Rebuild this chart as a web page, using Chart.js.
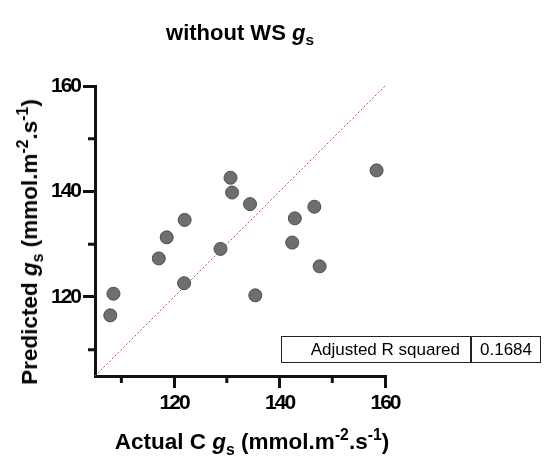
<!DOCTYPE html>
<html>
<head>
<meta charset="utf-8">
<script src="https://cdn.jsdelivr.net/npm/chart.js@4/dist/chart.umd.min.js"></script>
<style>
  html, body { margin: 0; padding: 0; background: #fff; }
  #wrap { position: relative; width: 544px; height: 464px; font-family: "Liberation Sans", Arial, sans-serif; color: #000; }
  #chart { position: absolute; left: 0; top: 0; }
  .lbl { position: absolute; font-weight: bold; white-space: nowrap; transform: translate(-50%, -50%); }
  .lbl i { font-style: italic; }
  .sub { font-size: 0.7em; position: relative; top: 0.35em; }
  .sup { font-size: 0.7em; position: relative; top: -0.55em; }
  #yTitle { transform: translate(-50%, -50%) rotate(-90deg); }
  #stats { position: absolute; left: 281px; top: 336px; width: 258px; height: 25px; border: 1.5px solid #222; display: flex; font-size: 17px; }
  #stats div { line-height: 25px; }
  #stats .name { width: 190px; text-align: right; padding-right: 10px; box-sizing: border-box; border-right: 2px solid #222; }
  #stats .val { flex: 1; text-align: center; }
</style>
</head>
<body>
<div id="wrap">
  <canvas id="chart" width="544" height="464"></canvas>
  <div class="lbl" id="title" style="left:240px; top:33px; font-size:22px;">without WS <i>g</i><span class="sub">s</span></div>
  <div class="lbl" id="xTitle" style="left:252px; top:442px; font-size:22.5px;">Actual C <i>g</i><span class="sub">s</span> (mmol.m<span class="sup">-2</span>.s<span class="sup">-1</span>)</div>
  <div class="lbl" id="yTitle" style="left:30px; top:242px; font-size:22.5px;">Predicted <i>g</i><span class="sub">s</span> (mmol.m<span class="sup">-2</span>.s<span class="sup">-1</span>)</div>
  <div id="stats"><div class="name">Adjusted R squared</div><div class="val">0.1684</div></div>
</div>
<script>
// values
const actualGs = [107.9, 108.5, 117.1, 118.6, 122.0, 121.9, 128.8, 130.7, 131.0, 134.4, 135.4, 142.9, 142.4, 146.6, 147.6, 158.4];
const predictedGs = [116.5, 120.6, 127.3, 131.3, 134.6, 122.6, 129.1, 142.6, 139.8, 137.6, 120.3, 134.9, 130.3, 137.1, 125.8, 144.0];
const axisMin = 105;
const axisMax = 160;
const majorTicks = [120, 140, 160];
const minorTicks = [110, 130, 150];

const tickFont = { family: '"Liberation Sans", Arial, sans-serif', size: 21, weight: 'bold' };

// the reference tick labels are narrow, tighten them a bit
const narrowTextPlugin = {
  id: 'narrowText',
  beforeDraw(chart) {
    chart.ctx.letterSpacing = '-2px';
  }
};

// short ticks between the labelled ones
const minorTickPlugin = {
  id: 'minorTicks',
  afterDraw(chart) {
    const ctx = chart.ctx;
    const xs = chart.scales.x, ys = chart.scales.y;
    ctx.save();
    ctx.strokeStyle = '#111';
    ctx.lineWidth = 3;
    ctx.beginPath();
    minorTicks.forEach(v => {
      const px = xs.getPixelForValue(v);
      ctx.moveTo(px, xs.top);
      ctx.lineTo(px, xs.top + 7);
      const py = ys.getPixelForValue(v);
      ctx.moveTo(ys.right, py);
      ctx.lineTo(ys.right - 7, py);
    });
    ctx.stroke();
    ctx.restore();
  }
};

function setTicks(scale) {
  scale.ticks = majorTicks.map(v => ({ value: v }));
}

const axisOpts = {
  type: 'linear',
  min: axisMin,
  max: axisMax,
  afterBuildTicks: setTicks,
  grid: { drawOnChartArea: false, drawTicks: true, tickLength: 12, color: '#111', lineWidth: 3 },
  border: { display: true, color: '#111', width: 3 },
  ticks: { color: '#000', font: tickFont, padding: 3 }
};

new Chart(document.getElementById('chart'), {
  type: 'scatter',
  data: {
    datasets: [
      {
        label: 'points',
        data: actualGs.map((x, i) => ({ x: x, y: predictedGs[i] })),
        backgroundColor: '#6e6e6e',
        borderColor: '#4d4d4d',
        borderWidth: 1,
        pointRadius: 6.5
      },
      {
        label: 'identity',
        type: 'line',
        data: [{ x: axisMin, y: axisMin }, { x: axisMax, y: axisMax }],
        borderColor: '#e8403f',
        borderWidth: 1,
        borderDash: [2, 2],
        pointRadius: 0,
        fill: false
      }
    ]
  },
  options: {
    responsive: false,
    animation: false,
    layout: { padding: { top: 86, right: 159, left: 0, bottom: 0 } },
    plugins: { legend: { display: false }, tooltip: { enabled: false } },
    scales: {
      x: Object.assign({}, axisOpts, { afterFit: s => { s.height = 88; } }),
      y: Object.assign({}, axisOpts, { afterFit: s => { s.width = 95; } })
    }
  },
  plugins: [narrowTextPlugin, minorTickPlugin]
});
</script>
</body>
</html>
